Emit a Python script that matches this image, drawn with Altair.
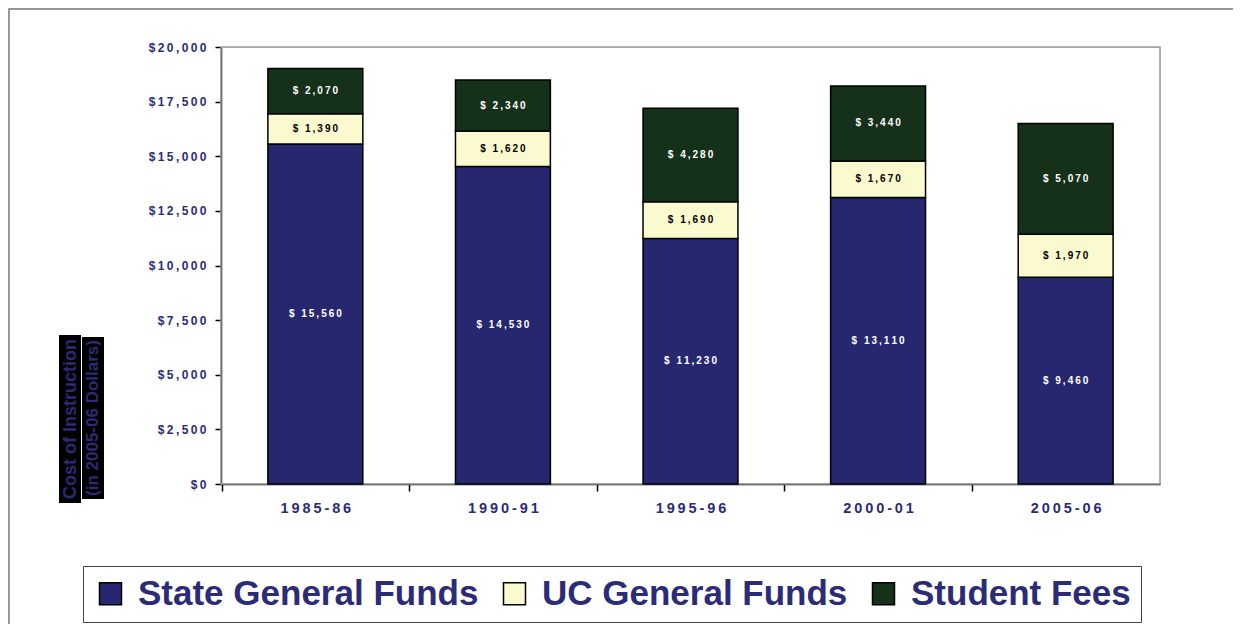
import altair as alt
import pandas as pd

years = ["1985-86", "1990-91", "1995-96", "2000-01", "2005-06"]
series = ["State General Funds", "UC General Funds", "Student Fees"]
state_funds = [15560, 14530, 11230, 13110, 9460]
uc_funds = [1390, 1620, 1690, 1670, 1970]
student_fees = [2070, 2340, 4280, 3440, 5070]
y_ticks = [0, 2500, 5000, 7500, 10000, 12500, 15000, 17500, 20000]
title_lines = ["Cost of Instruction", "(in 2005-06 Dollars)"]

colors = ["#27276F", "#FBF9CE", "#15311A"]
NAVY = "#2B2B78"
FONT = "Liberation Sans"
W, H = 939, 437
THIN = "\u2009"
P_IN, P_OUT = 0.494, 0.25
HALF_STEP = W / (len(years) - P_IN + 2 * P_OUT) / 2

rows = []
for i, yr in enumerate(years):
    for k, vals in enumerate([state_funds, uc_funds, student_fees]):
        rows.append({"year": yr, "series": series[k], "order": k, "value": vals[i]})
df = pd.DataFrame(rows)

base = alt.Chart(df).transform_stack(
    stack="value", groupby=["year"], sort=[alt.SortField("order")], as_=["v0", "v1"]
).transform_calculate(
    mid="(datum.v0 + datum.v1) / 2",
    txt="join(split('$ ' + format(datum.value, ','), ''), '" + THIN + "')",
)

x_enc = alt.X(
    "year:N", sort=years, title=None,
    scale=alt.Scale(paddingInner=P_IN, paddingOuter=P_OUT),
    axis=alt.Axis(
        labelAngle=0, labelFont=FONT, labelFontWeight="bold", labelFontSize=14.5,
        labelColor=NAVY, labelPadding=10, tickColor="black",
        tickSize=7, tickWidth=1.5, domainColor="black", domainWidth=1.5,
        tickOffset=-HALF_STEP, labelOffset=HALF_STEP,
        labelExpr="join(split(datum.label, ''), '" + THIN + "')",
    ),
)

bars = base.mark_bar(stroke="black", strokeWidth=1.5).encode(
    x=x_enc,
    y=alt.Y(
        "v0:Q", title=None, scale=alt.Scale(domain=[0, 20000], nice=False),
        axis=alt.Axis(
            values=y_ticks, format="$,.0f", labelFont=FONT, labelFontWeight="bold",
            labelFontSize=12, labelColor=NAVY, labelPadding=9, tickSize=6,
            tickColor="black", tickWidth=1.5, domainColor="black", domainWidth=1.5,
            grid=False,
            labelExpr="join(split(datum.label, ''), '" + THIN + "')",
        ),
    ),
    y2="v1:Q",
    color=alt.Color(
        "series:N", sort=series,
        scale=alt.Scale(domain=series, range=colors),
        legend=alt.Legend(
            title=None, orient="none", legendX=-138, legendY=519,
            direction="horizontal", strokeColor="#444", padding=10,
            symbolType="square", symbolSize=484, symbolStrokeColor="black",
            symbolStrokeWidth=1.5, labelFont=FONT, labelFontSize=35,
            labelFontWeight="bold", labelColor=NAVY, labelOffset=10,
            columnPadding=18, labelLimit=600,
        ),
    ),
    order=alt.Order("order:Q"),
)

labels = base.mark_text(font=FONT, fontWeight="bold", fontSize=10, baseline="middle").encode(
    x=alt.X("year:N", sort=years),
    y=alt.Y("mid:Q"),
    text="txt:N",
    color=alt.condition("datum.order == 1", alt.value("black"), alt.value("white")),
)

one = alt.Data(values=[{"a": 1}])

frame = alt.Chart(one).mark_rect(fill=None, stroke="#777", strokeWidth=1.5).encode(
    x=alt.value(-212), x2=alt.value(W + 100), y=alt.value(-38), y2=alt.value(H + 200)
)
plot_border = alt.Chart(one).mark_rect(fill=None, stroke="#999", strokeWidth=1.5).encode(
    x=alt.value(0), x2=alt.value(W), y=alt.value(0), y2=alt.value(H)
)

bg1 = alt.Chart(one).mark_rect(color="black").encode(
    x=alt.value(-162), x2=alt.value(-140), y=alt.value(288), y2=alt.value(456)
)
bg2 = alt.Chart(one).mark_rect(color="black").encode(
    x=alt.value(-139), x2=alt.value(-117), y=alt.value(290), y2=alt.value(452)
)
t1 = alt.Chart(one).mark_text(
    font=FONT, fontWeight="bold", fontSize=18, angle=270, color=NAVY, baseline="middle"
).encode(x=alt.value(-150), y=alt.value(372), text=alt.value(title_lines[0]))
t2 = alt.Chart(one).mark_text(
    font=FONT, fontWeight="bold", fontSize=17, angle=270, color=NAVY, baseline="middle"
).encode(x=alt.value(-128), y=alt.value(371), text=alt.value(title_lines[1]))

chart = alt.layer(frame, plot_border, bg1, bg2, t1, t2, bars, labels).properties(
    width=W, height=H, autosize="none",
    padding={"left": 213, "top": 39, "right": 73, "bottom": 140},
).configure_view(stroke=None).configure(background="white")

chart.save("out.html", embed_options={"renderer": "svg", "actions": False})
